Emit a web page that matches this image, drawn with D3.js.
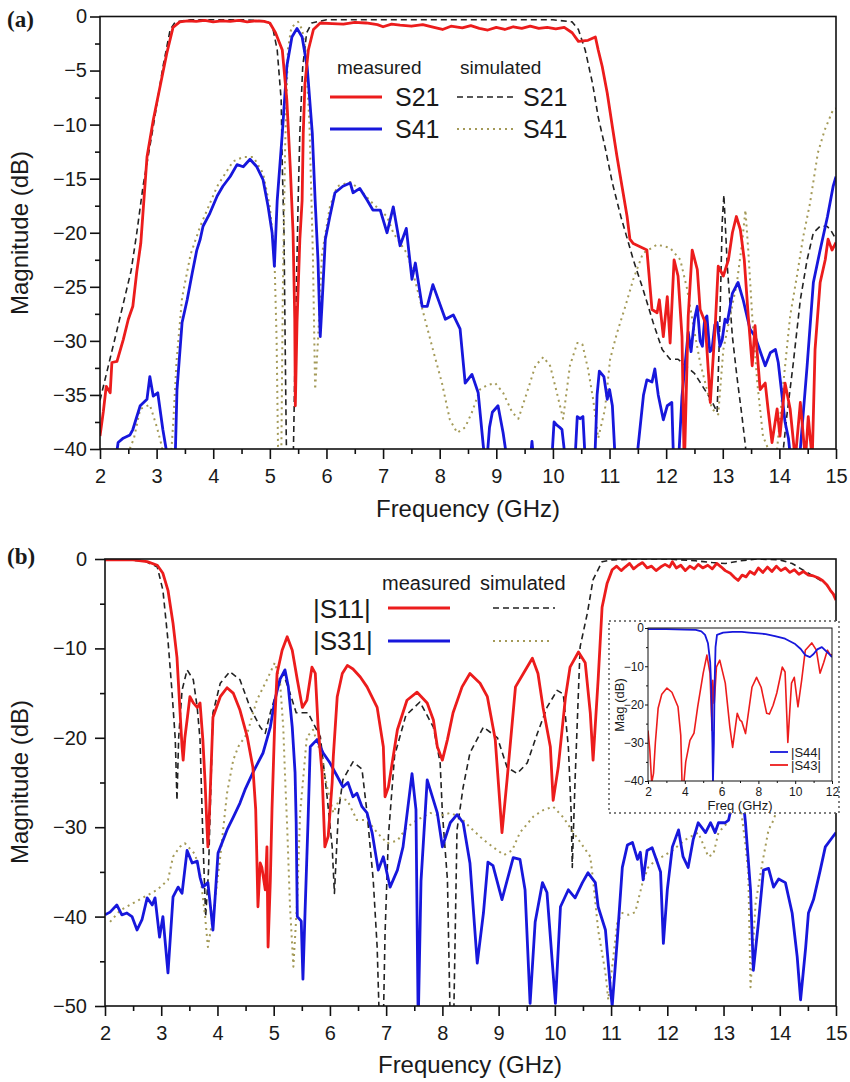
<!DOCTYPE html>
<html lang="en">
<head>
<meta charset="UTF-8">
<script src="https://cdn.jsdelivr.net/npm/d3@7/dist/d3.min.js"></script>
<title>S-parameters</title>
<style>
  body { margin: 0; background: #fff; }
  svg text { font-family: "Liberation Sans", Arial, sans-serif; fill: #1a1a1a; }
</style>
</head>
<body>
<svg width="850" height="1082"></svg>
<script>
// ---- tick labels ----
var freqTicks = [2, 3, 4, 5, 6, 7, 8, 9, 10, 11, 12, 13, 14, 15];
var magTicksA = [0, -5, -10, -15, -20, -25, -30, -35, -40];
var magTicksB = [0, -10, -20, -30, -40, -50];
var insetFreqTicks = [2, 4, 6, 8, 10, 12];
var insetMagTicks = [0, -10, -20, -30, -40];

// ---- panel (a): [GHz, dB] ----
var s21Meas = [[2.0,-38.8],[2.06,-36.5],[2.11,-34.2],[2.18,-34.8],[2.21,-32.0],[2.3,-31.9],[2.41,-29.9],[2.5,-28.0],[2.58,-26.8],[2.65,-23.6],[2.72,-21.0],[2.83,-13.0],[2.94,-9.6],[3.06,-6.5],[3.18,-3.4],[3.29,-1.0],[3.41,-0.5],[3.55,-0.4],[3.7,-0.45],[3.85,-0.35],[4.0,-0.5],[4.15,-0.4],[4.3,-0.45],[4.45,-0.35],[4.6,-0.5],[4.75,-0.4],[4.9,-0.45],[5.0,-0.6],[5.1,-1.5],[5.22,-3.1],[5.3,-7.7],[5.36,-13.9],[5.41,-20],[5.44,-28],[5.45,-36],[5.48,-28.3],[5.53,-20.6],[5.57,-17],[5.59,-10.8],[5.62,-6.2],[5.68,-3.1],[5.77,-1.2],[5.89,-0.6],[6.1,-0.65],[6.3,-0.7],[6.5,-0.55],[6.7,-0.6],[6.9,-0.75],[7.0,-0.95],[7.15,-0.7],[7.3,-0.8],[7.5,-0.9],[7.7,-0.75],[7.9,-1.0],[8.05,-1.2],[8.2,-0.9],[8.4,-1.05],[8.55,-0.85],[8.7,-1.1],[8.85,-1.25],[9.0,-1.0],[9.15,-1.2],[9.3,-0.95],[9.45,-1.1],[9.6,-0.9],[9.75,-1.1],[9.9,-1.0],[10.05,-1.15],[10.2,-1.0],[10.34,-1.5],[10.45,-2.3],[10.62,-2.2],[10.75,-1.9],[10.8,-3.1],[10.87,-4.6],[10.96,-7.1],[11.05,-10.2],[11.13,-12.9],[11.22,-15.7],[11.31,-18.5],[11.36,-20.6],[11.42,-21],[11.54,-21.3],[11.66,-21.6],[11.75,-27.1],[11.84,-27.4],[11.88,-26.2],[11.95,-29.6],[12.02,-25.9],[12.07,-30.2],[12.14,-22.5],[12.21,-24],[12.28,-29.6],[12.32,-42],[12.39,-27.7],[12.46,-21.6],[12.55,-23.4],[12.6,-27.1],[12.69,-28.3],[12.78,-35.7],[12.87,-28.3],[12.92,-23.1],[13.01,-24],[13.1,-22.5],[13.17,-20],[13.24,-18.5],[13.31,-19.7],[13.38,-22.5],[13.45,-27.7],[13.52,-32.3],[13.57,-28.6],[13.66,-34.5],[13.75,-33.9],[13.8,-36.3],[13.87,-39.4],[13.96,-36.3],[14.01,-38.8],[14.1,-33.9],[14.19,-36.3],[14.28,-41],[14.37,-35.7],[14.46,-41],[14.51,-37],[14.58,-41],[14.63,-30.8],[14.72,-24.6],[14.81,-22.5],[14.86,-20.6],[14.93,-21.6],[15.0,-20.9]];

var s21Sim = [[2.0,-35.5],[2.3,-29],[2.55,-23.5],[2.65,-20],[2.76,-15.7],[2.94,-10.2],[3.11,-4.7],[3.24,-1.2],[3.33,-0.5],[3.6,-0.3],[4.5,-0.3],[4.95,-0.4],[5.05,-1],[5.13,-3.1],[5.2,-7.7],[5.22,-13.9],[5.25,-20],[5.27,-29.9],[5.29,-39],[5.31,-45],[5.4,-45],[5.45,-30],[5.5,-17],[5.53,-10.8],[5.58,-4.7],[5.65,-1.5],[5.74,-0.6],[6.0,-0.3],[8.0,-0.3],[10.0,-0.3],[10.34,-0.5],[10.45,-1.2],[10.57,-3.1],[10.7,-6.2],[10.8,-9.3],[10.93,-12.3],[11.05,-15.4],[11.2,-18.5],[11.42,-22.5],[11.59,-25.2],[11.77,-28.3],[11.93,-30.8],[12.07,-31.7],[12.21,-31.7],[12.5,-33],[12.8,-35.5],[12.9,-36.6],[12.95,-28],[12.99,-19],[13.02,-16.5],[13.08,-23.1],[13.17,-29.6],[13.25,-33.3],[13.34,-37],[13.4,-39.7],[13.45,-43],[14.0,-43],[14.07,-40],[14.13,-37],[14.24,-32.3],[14.37,-26.2],[14.49,-22.5],[14.6,-20],[14.72,-19.4],[14.84,-19.4],[14.9,-19.7],[15.0,-20.6]];

var s41Meas = [[2.25,-42],[2.32,-39.4],[2.41,-39],[2.53,-38.7],[2.58,-38.2],[2.71,-36],[2.83,-35.4],[2.88,-33.3],[2.94,-35.1],[3.02,-34.8],[3.11,-38.2],[3.2,-41],[3.3,-42],[3.33,-40.5],[3.36,-34.5],[3.45,-28.3],[3.54,-26.2],[3.63,-23.7],[3.71,-21.6],[3.77,-20.6],[3.82,-19.4],[3.94,-18.2],[4.07,-16.6],[4.17,-15.7],[4.3,-14.8],[4.42,-13.7],[4.53,-13.9],[4.65,-13.2],[4.77,-13.9],[4.88,-15.1],[4.97,-17.6],[5.04,-20],[5.08,-23.1],[5.13,-17],[5.22,-10.8],[5.3,-4.6],[5.39,-1.9],[5.48,-1.1],[5.57,-1.9],[5.66,-4.7],[5.75,-10.8],[5.8,-17],[5.85,-22.5],[5.89,-29.6],[5.92,-26.8],[5.98,-20.6],[6.06,-18.5],[6.15,-16.3],[6.29,-15.7],[6.42,-15.4],[6.47,-16.3],[6.59,-15.9],[6.72,-17],[6.82,-17.9],[6.95,-17.9],[7.07,-20],[7.18,-17.6],[7.3,-21.2],[7.41,-19.6],[7.51,-24.3],[7.57,-22.8],[7.69,-26.8],[7.78,-26.8],[7.88,-24.8],[8.1,-28],[8.24,-27.6],[8.36,-28.9],[8.45,-33.9],[8.57,-33.1],[8.68,-34.8],[8.77,-39.7],[8.82,-42],[8.88,-38],[8.93,-36.6],[9.03,-36],[9.12,-38.5],[9.19,-41],[9.6,-41],[9.63,-39.3],[9.66,-41],[9.98,-41],[10.02,-37.5],[10.07,-37.8],[10.12,-38],[10.16,-38.2],[10.22,-41],[10.39,-41],[10.43,-37],[10.48,-37.2],[10.53,-37],[10.57,-41],[10.74,-41],[10.78,-35],[10.82,-32.8],[10.9,-33.3],[10.96,-35.4],[11.0,-34.5],[11.05,-36],[11.1,-41],[11.48,-41],[11.52,-39],[11.6,-35],[11.66,-33.6],[11.75,-33.8],[11.8,-32.6],[11.86,-35],[11.95,-37.3],[12.02,-36],[12.1,-35.7],[12.13,-41],[12.22,-41],[12.28,-35.1],[12.39,-29.2],[12.44,-31],[12.5,-28],[12.55,-26.8],[12.6,-30],[12.64,-30.5],[12.68,-28],[12.72,-27.7],[12.77,-31],[12.81,-30.8],[12.86,-28.5],[12.9,-28.3],[12.95,-30.5],[12.99,-29.9],[13.04,-28],[13.08,-28.3],[13.17,-25.6],[13.27,-24.6],[13.36,-26.2],[13.48,-28.9],[13.57,-29.6],[13.63,-30.5],[13.75,-32.3],[13.84,-31.1],[13.93,-30.8],[13.98,-32],[14.1,-37.5],[14.16,-39],[14.2,-41],[14.33,-41],[14.37,-40],[14.49,-32.3],[14.6,-24.6],[14.72,-21.6],[14.85,-18.5],[14.95,-15.7],[15.0,-14.8]];

var s41Sim = [[2.45,-41],[2.6,-39],[2.71,-36.3],[2.88,-35.9],[3.0,-37.9],[3.09,-39.7],[3.15,-41.5],[3.25,-41],[3.3,-37],[3.35,-32],[3.45,-26],[3.6,-22],[3.77,-19.4],[4.07,-15.7],[4.35,-13.4],[4.53,-13],[4.71,-13],[4.88,-14.5],[5.0,-17.6],[5.08,-22],[5.12,-30],[5.15,-42],[5.2,-42],[5.23,-25],[5.27,-12],[5.32,-3],[5.38,-1],[5.5,-0.5],[5.57,-1.2],[5.63,-3.1],[5.7,-10],[5.76,-22],[5.8,-34.5],[5.85,-30],[5.92,-22],[6.06,-17.6],[6.19,-15.7],[6.42,-15.3],[6.59,-16],[6.82,-17.3],[7.07,-18.5],[7.18,-20],[7.42,-21.9],[7.53,-23.7],[7.71,-27.4],[7.88,-30.8],[8.04,-33.9],[8.18,-37.3],[8.31,-38.5],[8.45,-38],[8.57,-36.6],[8.71,-34.5],[8.84,-34.1],[8.98,-33.9],[9.12,-34.8],[9.28,-36.6],[9.39,-37.2],[9.54,-34.8],[9.69,-32.3],[9.83,-31.5],[9.95,-32.3],[10.07,-34.8],[10.18,-37.2],[10.3,-32.3],[10.43,-30.2],[10.52,-30.3],[10.62,-32.6],[10.71,-35.4],[10.8,-39],[10.92,-36.3],[11.01,-31.7],[11.13,-29.3],[11.28,-26.8],[11.42,-24.3],[11.59,-21.9],[11.84,-21.1],[12.07,-21.4],[12.25,-22.5],[12.37,-25.2],[12.48,-28.6],[12.6,-32],[12.72,-34.5],[12.81,-36.3],[12.92,-36.8],[13.01,-30.8],[13.13,-27.7],[13.25,-24.6],[13.34,-21],[13.4,-17.9],[13.45,-21.6],[13.52,-27.7],[13.61,-33.9],[13.71,-38.8],[13.84,-40.5],[13.96,-40],[14.07,-33.9],[14.19,-27.7],[14.31,-24],[14.42,-20.4],[14.54,-17.3],[14.68,-12.6],[14.8,-10.5],[14.95,-8.6],[15.0,-8.5]];

// ---- panel (b): [GHz, dB] ----
var s11Meas = [[2.0,-0.1],[2.5,-0.1],[2.75,-0.3],[2.93,-0.7],[3.03,-1.6],[3.12,-3.5],[3.21,-7.2],[3.28,-11],[3.33,-16.6],[3.37,-21],[3.39,-22.5],[3.42,-20],[3.46,-18],[3.51,-15.4],[3.57,-16.1],[3.64,-16.6],[3.69,-16.1],[3.74,-20.2],[3.78,-25],[3.81,-29.5],[3.83,-32.2],[3.86,-28],[3.92,-17.7],[4.05,-15.4],[4.17,-14.4],[4.28,-15],[4.4,-16.9],[4.53,-19.9],[4.63,-23.3],[4.68,-28],[4.7,-33.3],[4.72,-38.9],[4.76,-34],[4.79,-34.5],[4.85,-37],[4.88,-32.2],[4.9,-43.4],[4.94,-36],[4.97,-28],[5.02,-18],[5.06,-12.8],[5.15,-10.2],[5.24,-8.7],[5.33,-10.2],[5.42,-13.5],[5.51,-16.6],[5.59,-15.8],[5.68,-12.1],[5.74,-12.8],[5.79,-18.8],[5.86,-23.9],[5.91,-32.2],[5.97,-31],[6.04,-25],[6.06,-22.1],[6.13,-15.4],[6.22,-12.8],[6.31,-11.9],[6.41,-12.3],[6.54,-13.2],[6.66,-14.3],[6.84,-16.6],[6.95,-21],[6.98,-26.6],[7.04,-25.5],[7.2,-19.1],[7.37,-15.8],[7.55,-14.9],[7.73,-16.1],[7.84,-18],[7.91,-21],[8.0,-22.5],[8.09,-20.2],[8.19,-17.2],[8.35,-14.3],[8.49,-12.8],[8.67,-13.9],[8.8,-15.4],[8.94,-20.2],[9.06,-30.6],[9.15,-24.7],[9.3,-14.3],[9.44,-12.8],[9.6,-11.1],[9.7,-12.8],[9.79,-16.6],[9.92,-21],[9.97,-27],[10.06,-23.3],[10.19,-15.4],[10.27,-12.1],[10.42,-10.4],[10.54,-11.6],[10.63,-17.2],[10.68,-22.5],[10.77,-13.5],[10.84,-5.4],[10.93,-2.7],[11.02,-1.2],[11.1,-0.8],[11.18,-1.3],[11.25,-0.9],[11.33,-0.5],[11.4,-1.1],[11.48,-0.7],[11.56,-0.4],[11.64,-1.0],[11.72,-0.8],[11.8,-1.3],[11.88,-0.9],[11.96,-0.6],[12.04,-0.9],[12.09,-0.3],[12.16,-1.0],[12.24,-0.7],[12.32,-1.3],[12.4,-0.8],[12.48,-1.1],[12.55,-0.6],[12.63,-1.0],[12.72,-0.7],[12.8,-1.1],[12.88,-0.5],[12.96,-0.9],[13.03,-1.3],[13.12,-1.6],[13.2,-2.1],[13.26,-2.4],[13.33,-1.8],[13.4,-2.0],[13.47,-1.4],[13.55,-1.7],[13.62,-1.0],[13.7,-1.5],[13.78,-0.9],[13.86,-1.4],[13.94,-0.8],[14.02,-1.3],[14.1,-1.0],[14.18,-1.5],[14.26,-1.2],[14.34,-1.7],[14.42,-1.4],[14.51,-1.8],[14.6,-1.9],[14.68,-2.1],[14.76,-2.4],[14.84,-2.9],[14.9,-3.5],[14.95,-3.9],[15.0,-4.6]];

var s11Sim = [[2.0,0],[2.7,-0.2],[2.93,-0.9],[3.03,-3.5],[3.12,-9.1],[3.19,-14.7],[3.25,-20.2],[3.28,-27],[3.31,-20],[3.37,-14.7],[3.46,-12.4],[3.57,-13.5],[3.64,-16.6],[3.69,-20.2],[3.74,-31.1],[3.79,-40],[3.84,-35],[3.92,-17.2],[4.05,-13.9],[4.22,-12.6],[4.4,-13.5],[4.58,-16.6],[4.76,-18.8],[4.85,-19.5],[4.94,-17.2],[5.06,-14.7],[5.17,-12.8],[5.29,-15],[5.4,-17.2],[5.61,-17.2],[5.83,-19.9],[5.95,-26.6],[6.04,-32.2],[6.08,-37.4],[6.15,-28.4],[6.23,-24.7],[6.41,-22.7],[6.57,-23.5],[6.66,-28.4],[6.77,-35.9],[6.84,-43.4],[6.88,-52],[6.95,-52],[6.98,-42],[7.04,-31],[7.15,-22],[7.35,-17.5],[7.6,-16],[7.84,-18.8],[7.96,-22.8],[8.0,-28.4],[8.09,-35.9],[8.14,-52],[8.2,-52],[8.26,-30.3],[8.37,-25.5],[8.49,-21.7],[8.73,-18.8],[8.98,-20],[9.15,-23.3],[9.33,-24],[9.51,-22.8],[9.69,-19.5],[9.86,-16.6],[10.04,-14.7],[10.15,-15.1],[10.24,-21],[10.29,-28.4],[10.31,-34.5],[10.36,-24.7],[10.45,-9.8],[10.58,-6],[10.68,-2.3],[10.84,-0.3],[11.02,-0.1],[11.5,0],[12.0,0],[12.5,-0.2],[12.8,-0.4],[13.03,-0.5],[13.3,-0.2],[13.6,0],[14.0,-0.1],[14.22,-0.5],[14.51,-1.6],[14.81,-2.7],[14.94,-3.8],[15.0,-4.2]];

var s31Meas = [[2.0,-39.8],[2.09,-39.5],[2.21,-38.7],[2.3,-39.8],[2.39,-39.6],[2.48,-40],[2.57,-41.5],[2.66,-40.3],[2.75,-37.9],[2.84,-38.7],[2.89,-37.9],[2.97,-42.3],[3.03,-40],[3.12,-46.3],[3.21,-37.8],[3.3,-36.7],[3.37,-37.4],[3.46,-32.6],[3.55,-34],[3.64,-33.8],[3.69,-35.6],[3.74,-36.7],[3.83,-36.2],[3.92,-41.5],[4.01,-32.9],[4.17,-30.3],[4.28,-28.9],[4.4,-27.3],[4.49,-25.8],[4.63,-23.9],[4.81,-21.7],[4.94,-18.8],[5.02,-15.8],[5.11,-13.5],[5.2,-12.4],[5.26,-14.3],[5.33,-18.8],[5.38,-23.9],[5.4,-29.5],[5.42,-40],[5.49,-40.5],[5.52,-47],[5.56,-39],[5.61,-29.5],[5.65,-21],[5.77,-20.2],[5.88,-21.7],[6.0,-22.8],[6.13,-24.3],[6.23,-25.5],[6.32,-25],[6.41,-26.6],[6.48,-26.2],[6.57,-27.7],[6.66,-28.4],[6.75,-30.6],[6.86,-34.8],[6.95,-33.3],[7.07,-36.7],[7.2,-34.8],[7.3,-32.2],[7.46,-24],[7.53,-28],[7.57,-52],[7.62,-36],[7.73,-24.7],[7.91,-28.4],[8.0,-32.2],[8.14,-29.5],[8.26,-28.6],[8.37,-29.5],[8.49,-34],[8.62,-45.2],[8.73,-39.6],[8.81,-33.9],[8.9,-34.3],[9.06,-38.1],[9.26,-33.4],[9.38,-33.6],[9.47,-37],[9.56,-49.7],[9.65,-40.6],[9.78,-36.2],[9.86,-37.3],[10.01,-49.7],[10.1,-38.9],[10.24,-37],[10.36,-37.9],[10.49,-36.2],[10.59,-35.1],[10.72,-36.2],[10.77,-38.9],[10.9,-41.5],[10.99,-48.2],[11.02,-50],[11.11,-42.6],[11.2,-34.5],[11.29,-32],[11.38,-31.7],[11.47,-33.6],[11.52,-32.8],[11.57,-35.9],[11.64,-32.6],[11.73,-32.3],[11.82,-33.9],[11.88,-35],[11.93,-43],[12.0,-37],[12.09,-32.2],[12.2,-30.3],[12.28,-33.3],[12.37,-34.5],[12.46,-31.4],[12.55,-29.5],[12.68,-30.6],[12.77,-29.5],[12.85,-30.6],[12.91,-29.5],[13.03,-29.5],[13.09,-29.2],[13.2,-26],[13.35,-27],[13.39,-29.5],[13.48,-37],[13.53,-46],[13.62,-40.7],[13.71,-34.8],[13.8,-34.6],[13.89,-36.7],[13.98,-35.8],[14.1,-36.2],[14.22,-39.6],[14.31,-44.5],[14.37,-49.3],[14.46,-43.5],[14.51,-39.6],[14.6,-38.1],[14.72,-34.8],[14.81,-32.2],[14.94,-31.1],[15.0,-30.6]];

var s31Sim = [[2.09,-40.6],[2.27,-39.3],[2.5,-38.5],[2.93,-37],[3.12,-35.9],[3.21,-33.3],[3.33,-32.2],[3.42,-31.8],[3.6,-33],[3.69,-35.1],[3.78,-40],[3.83,-43.4],[3.92,-40],[4.05,-33.3],[4.17,-26.2],[4.28,-22.5],[4.37,-21],[4.53,-19.5],[4.7,-15.8],[4.88,-13.5],[5.02,-11.6],[5.11,-13.5],[5.17,-18.8],[5.2,-24],[5.24,-30],[5.29,-38.9],[5.35,-45.6],[5.42,-38],[5.47,-28.4],[5.59,-19.9],[5.7,-19.1],[5.83,-21.6],[5.95,-25.5],[6.06,-28.4],[6.18,-26.7],[6.31,-27],[6.48,-29.2],[6.66,-29.2],[6.84,-30.6],[7.02,-31.8],[7.2,-31.5],[7.37,-30],[7.55,-29.2],[7.78,-28.4],[7.96,-28.7],[8.14,-28.4],[8.32,-28.9],[8.49,-30],[8.73,-31.4],[8.98,-32.6],[9.1,-33.1],[9.24,-32.6],[9.38,-30.6],[9.62,-28.8],[9.79,-28.1],[9.97,-27.7],[10.15,-28.9],[10.33,-30.6],[10.51,-32.2],[10.63,-33.3],[10.68,-35.9],[10.77,-41.5],[10.9,-46.3],[10.95,-49.3],[11.04,-44.5],[11.11,-40.7],[11.2,-39.6],[11.31,-39.8],[11.43,-39.5],[11.56,-36.2],[11.66,-34.5],[11.79,-33.7],[11.91,-33.3],[12.09,-32.6],[12.32,-31.4],[12.55,-30.6],[12.73,-33.3],[12.82,-33],[12.91,-30.6],[13.07,-29.5],[13.2,-27],[13.3,-27.5],[13.39,-32],[13.44,-35.1],[13.48,-47.9],[13.57,-38.5],[13.69,-34],[13.8,-30.3],[13.89,-29.2],[14.0,-27],[14.3,-24],[14.6,-22],[15.0,-20]];

// ---- inset: [GHz, dB] ----
var s44Inset = [[2,-0.3],[3,-0.3],[4,-0.4],[4.6,-0.5],[4.9,-0.9],[5.1,-1.8],[5.26,-4],[5.38,-9],[5.44,-16],[5.5,-30],[5.53,-40.5],[5.58,-30],[5.62,-15],[5.67,-5],[5.75,-1.8],[6.08,-1.2],[6.6,-1],[7.1,-1],[7.5,-1.2],[8.0,-1.4],[8.4,-1.6],[8.9,-2.1],[9.45,-2.8],[10.0,-4.2],[10.3,-5.5],[10.55,-7.1],[10.8,-7.6],[11.0,-6.8],[11.2,-5.6],[11.45,-5],[11.8,-6.6],[12,-7.6]];
var s43Inset = [[2.0,-26.8],[2.1,-32],[2.2,-40.5],[2.3,-38],[2.4,-30],[2.55,-21],[2.75,-17.3],[3.03,-15.7],[3.3,-16.8],[3.63,-20.6],[3.78,-28],[3.85,-40.5],[3.95,-40.5],[4.05,-35],[4.28,-29.4],[4.5,-27.5],[4.7,-20.6],[5.0,-11.8],[5.2,-7.1],[5.37,-11.8],[5.48,-26.8],[5.52,-13.7],[5.6,-19.7],[5.72,-10.2],[5.9,-8.4],[6.2,-14.4],[6.45,-26],[6.6,-31.2],[6.85,-22.3],[7.0,-24.1],[7.1,-24.5],[7.3,-27.6],[7.65,-15.5],[7.9,-12.9],[8.15,-15.5],[8.45,-22.3],[8.6,-22.5],[8.8,-20.2],[9.0,-17],[9.3,-10.2],[9.45,-11.5],[9.6,-29.9],[9.8,-14.4],[9.95,-12.9],[10.15,-20.6],[10.35,-13.7],[10.55,-5.8],[10.9,-3.9],[11.15,-5.8],[11.35,-11.8],[11.55,-9],[11.75,-5.8],[11.9,-7],[12,-7]];

var RED = "#ec1c1c", BLUE = "#1717dc", DASH = "#222", OLIVE = "#a49a58";

var svg = d3.select("svg");

function addLine(g, x, y, data, color, width, dash) {
  g.append("path")
    .datum(data)
    .attr("fill", "none")
    .attr("stroke", color)
    .attr("stroke-width", width)
    .attr("stroke-dasharray", dash || null)
    .attr("stroke-linejoin", "round")
    .attr("d", d3.line().x(d => x(d[0])).y(d => y(d[1])));
}

// draws ticks + labels on left/bottom, plus a closed frame
function drawAxes(g, x, y, o) {
  var bottom = g.append("g").attr("transform", `translate(0,${o.y1})`)
    .call(d3.axisBottom(x).tickValues(o.xTicks).tickSize(o.major).tickSizeOuter(0).tickPadding(o.padX));
  var left = g.append("g").attr("transform", `translate(${o.x0},0)`)
    .call(d3.axisLeft(y).tickValues(o.yTicks).tickSize(o.major).tickSizeOuter(0).tickPadding(o.padY));
  g.append("g").attr("transform", `translate(0,${o.y1})`)
    .call(d3.axisBottom(x).tickValues(o.xMinor).tickSize(o.minor).tickFormat(""))
    .call(a => a.select(".domain").remove());
  g.append("g").attr("transform", `translate(${o.x0},0)`)
    .call(d3.axisLeft(y).tickValues(o.yMinor).tickSize(o.minor).tickFormat(""))
    .call(a => a.select(".domain").remove());
  g.selectAll(".tick line").attr("stroke", "#111").attr("stroke-width", o.sw);
  g.selectAll(".domain").remove();
  [bottom, left].forEach(a => a.selectAll("text").attr("font-size", o.font).style("fill", "#1a1a1a"));
  g.append("rect")
    .attr("x", o.x0).attr("y", o.y0)
    .attr("width", o.x1 - o.x0).attr("height", o.y1 - o.y0)
    .attr("fill", "none").attr("stroke", "#111").attr("stroke-width", o.sw);
}

function halfSteps(a, b, step) {
  var out = [];
  for (var v = a; v <= b + 1e-9; v += step) out.push(+v.toFixed(2));
  return out;
}

function panel(p) {
  var x = d3.scaleLinear().domain(p.xDomain).range([p.x0, p.x1]);
  var y = d3.scaleLinear().domain(p.yDomain).range([p.y1, p.y0]);
  var g = svg.append("g");
  svg.append("clipPath").attr("id", "clip-" + p.id)
    .append("rect").attr("x", p.x0).attr("y", p.y0)
    .attr("width", p.x1 - p.x0).attr("height", p.y1 - p.y0);
  var plot = g.append("g").attr("clip-path", `url(#clip-${p.id})`);
  p.series.forEach(s => addLine(plot, x, y, s.data, s.color, s.width, s.dash));
  drawAxes(g, x, y, p);
  return { x: x, y: y, g: g };
}

// ---------- panel (a) ----------
panel({
  id: "a", xDomain: [2, 15], yDomain: [-40, 0],
  x0: 100, x1: 836, y0: 16.5, y1: 449,
  xTicks: freqTicks, yTicks: magTicksA,
  xMinor: halfSteps(2.5, 14.5, 1), yMinor: halfSteps(-37.5, -2.5, 5),
  major: 10, minor: 5, padX: 10, padY: 3, font: 20, sw: 1.6,
  series: [
    { data: s21Sim, color: DASH, width: 1.6, dash: "6,4" },
    { data: s41Sim, color: OLIVE, width: 2, dash: "2,4" },
    { data: s41Meas, color: BLUE, width: 2.8 },
    { data: s21Meas, color: RED, width: 2.8 }
  ]
});

// ---------- panel (b) ----------
panel({
  id: "b", xDomain: [2, 15], yDomain: [-50, 0],
  x0: 105, x1: 836, y0: 559, y1: 1006,
  xTicks: freqTicks, yTicks: magTicksB,
  xMinor: halfSteps(2.5, 14.5, 1), yMinor: halfSteps(-45, -5, 10),
  major: 10, minor: 5, padX: 10, padY: 8, font: 20, sw: 1.6,
  series: [
    { data: s11Sim, color: DASH, width: 1.6, dash: "6,4" },
    { data: s31Sim, color: OLIVE, width: 2, dash: "2,4" },
    { data: s31Meas, color: BLUE, width: 2.8 },
    { data: s11Meas, color: RED, width: 2.8 }
  ]
});

// ---------- inset ----------
svg.append("rect")
  .attr("x", 609).attr("y", 621).attr("width", 230).attr("height", 192)
  .attr("fill", "#fff").attr("stroke", "#555").attr("stroke-width", 1.5)
  .attr("stroke-dasharray", "2,3");

var ins = panel({
  id: "in", xDomain: [2, 12], yDomain: [-40, 0],
  x0: 648, x1: 832, y0: 628, y1: 781,
  xTicks: insetFreqTicks, yTicks: insetMagTicks,
  xMinor: halfSteps(3, 11, 2), yMinor: halfSteps(-35, -5, 10),
  major: 3, minor: 2, padX: 3, padY: 1, font: 12, sw: 1,
  series: [
    { data: s43Inset, color: RED, width: 1.6 },
    { data: s44Inset, color: BLUE, width: 1.8 }
  ]
});

ins.g.append("text").attr("x", 740).attr("y", 810).attr("text-anchor", "middle")
  .attr("font-size", 13).text("Freq (GHz)");
ins.g.append("text").attr("transform", "translate(624,705) rotate(-90)")
  .attr("text-anchor", "middle").attr("font-size", 13).text("Mag (dB)");

var insLeg = [{ label: "|S44|", color: BLUE, y: 752 }, { label: "|S43|", color: RED, y: 765 }];
insLeg.forEach(d => {
  ins.g.append("line").attr("x1", 770).attr("x2", 788).attr("y1", d.y).attr("y2", d.y)
    .attr("stroke", d.color).attr("stroke-width", 1.8);
  ins.g.append("text").attr("x", 791).attr("y", d.y + 5).attr("font-size", 13).text(d.label);
});

// ---------- titles ----------
function titles(cx, cy, baseX, baseY) {
  svg.append("text").attr("x", cx).attr("y", baseY).attr("text-anchor", "middle")
    .attr("font-size", 24).text("Frequency (GHz)");
  svg.append("text").attr("transform", `translate(${baseX},${cy}) rotate(-90)`)
    .attr("text-anchor", "middle").attr("font-size", 24).text("Magnitude (dB)");
}
titles(468, 233, 28, 517);
titles(470, 782, 28, 1073);

svg.append("text").attr("x", 7).attr("y", 27).style("font-family", "'Liberation Serif', serif")
  .attr("font-weight", "bold").attr("font-size", 23).text("(a)");
svg.append("text").attr("x", 7).attr("y", 564).style("font-family", "'Liberation Serif', serif")
  .attr("font-weight", "bold").attr("font-size", 23).text("(b)");

// ---------- legends ----------
function legendLine(x1, x2, y, color, width, dash) {
  svg.append("line").attr("x1", x1).attr("x2", x2).attr("y1", y).attr("y2", y)
    .attr("stroke", color).attr("stroke-width", width).attr("stroke-dasharray", dash || null);
}
function legendText(x, y, size, txt) {
  svg.append("text").attr("x", x).attr("y", y).attr("font-size", size).text(txt);
}

// (a)
legendText(337, 74, 19, "measured");
legendText(460, 74, 19, "simulated");
legendLine(330, 382, 97, RED, 2.8);
legendText(395, 106, 25, "S21");
legendLine(457, 515, 97, DASH, 1.6, "6,4");
legendText(523, 106, 25, "S21");
legendLine(330, 382, 129, BLUE, 2.8);
legendText(395, 138, 25, "S41");
legendLine(457, 515, 129, OLIVE, 2, "2,4");
legendText(523, 138, 25, "S41");

// (b)
legendText(382, 590, 20, "measured");
legendText(480, 590, 20, "simulated");
legendText(313, 618, 26, "|S11|");
legendLine(388, 450, 608, RED, 2.8);
legendLine(493, 555, 608, DASH, 1.6, "6,4");
legendText(313, 650, 26, "|S31|");
legendLine(388, 450, 641, BLUE, 2.8);
legendLine(493, 553, 641, OLIVE, 2, "2,4");
</script>
</body>
</html>
